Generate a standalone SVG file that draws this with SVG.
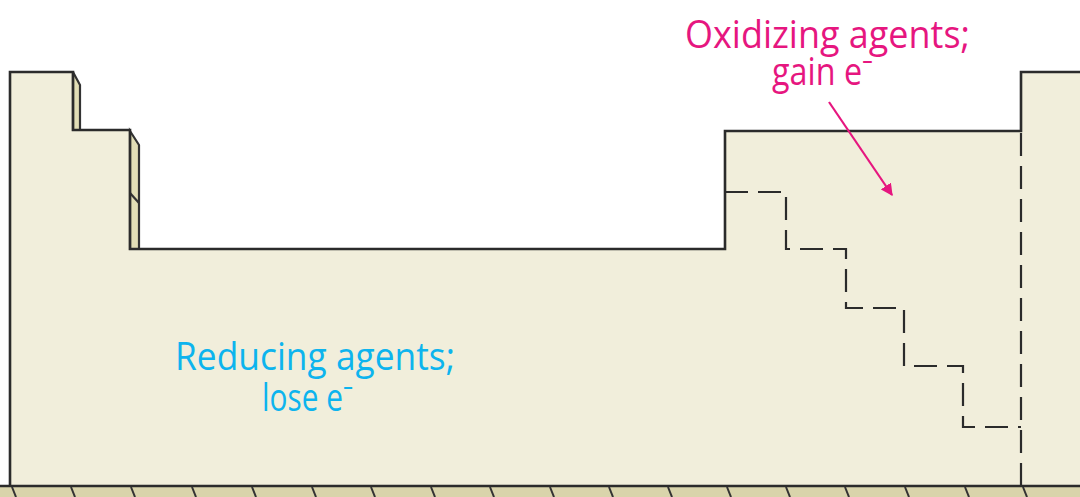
<svg xmlns="http://www.w3.org/2000/svg" width="1080" height="497" viewBox="0 0 1080 497">
<defs>
<style>
.body{fill:#f1eedb;stroke:none}
.side{fill:#e2deb6;stroke:#333;stroke-width:2.2;stroke-linejoin:miter}
.outline{fill:none;stroke:#2b2b2b;stroke-width:2.6;stroke-linejoin:miter}
.dash{fill:none;stroke:#2b2b2b;stroke-width:2.2;stroke-dasharray:23 10}
.tick{stroke:#333;stroke-width:2}
.ox{fill:#e6167f;font-family:"Open Sans","Noto Sans",sans-serif;font-size:39px}
.red{fill:#0db4ee;font-family:"Open Sans","Noto Sans",sans-serif;font-size:39px}
</style>
<marker id="ah" viewBox="0 0 10 10" refX="9" refY="5" markerWidth="5.5" markerHeight="5.5" orient="auto" markerUnits="strokeWidth">
<path d="M0,0 L10,5 L0,10 Z" fill="#e6167f"/>
</marker>
</defs>
<rect width="1080" height="497" fill="#ffffff"/>
<g id="table">
<path class="body" d="M10,486 V72 H73 V130 H130 V249 H725 V131 H1021 V72 H1080 V486 Z"/>
<rect x="0" y="486" width="1080" height="11" fill="#d9d4ab"/>
<path class="side" d="M73,72 L80,85 V130 H73 Z"/>
<path class="side" d="M130,131 L139,145 V249 H130 Z"/>
<path class="side" d="M130,193 L139,203" fill="none"/>
<path class="outline" d="M10,486 V72 H73 V130 H130 V249 H725 V131 H1021 V72 H1080"/>
<line class="outline" x1="0" y1="486" x2="1080" y2="486"/>
</g>
<g id="ticks">
<line class="tick" x1="12" y1="487" x2="16" y2="497"/>
<line class="tick" x1="71" y1="487" x2="75" y2="497"/>
<line class="tick" x1="131" y1="487" x2="135" y2="497"/>
<line class="tick" x1="192" y1="487" x2="196" y2="497"/>
<line class="tick" x1="252" y1="487" x2="256" y2="497"/>
<line class="tick" x1="312" y1="487" x2="316" y2="497"/>
<line class="tick" x1="371" y1="487" x2="375" y2="497"/>
<line class="tick" x1="431" y1="487" x2="435" y2="497"/>
<line class="tick" x1="490" y1="487" x2="494" y2="497"/>
<line class="tick" x1="550" y1="487" x2="554" y2="497"/>
<line class="tick" x1="609" y1="487" x2="613" y2="497"/>
<line class="tick" x1="668" y1="487" x2="672" y2="497"/>
<line class="tick" x1="727" y1="487" x2="731" y2="497"/>
<line class="tick" x1="786" y1="487" x2="790" y2="497"/>
<line class="tick" x1="845" y1="487" x2="849" y2="497"/>
<line class="tick" x1="905" y1="487" x2="909" y2="497"/>
<line class="tick" x1="965" y1="487" x2="969" y2="497"/>
<line class="tick" x1="1023" y1="487" x2="1027" y2="497"/>
</g>
<g id="connectors">
<path class="dash" d="M725,192 H786 V249 H846 V308 H904 V366 H963 V427 H1021"/>
<path class="dash" d="M1021,133 V486"/>
<line x1="829" y1="102" x2="892" y2="195" stroke="#e6167f" stroke-width="2.2" marker-end="url(#ah)"/>
</g>
<g id="oxidizing">
<text class="ox" x="685" y="48" textLength="285" lengthAdjust="spacingAndGlyphs">Oxidizing agents;</text>
<text class="ox" x="772" y="85" textLength="101" lengthAdjust="spacingAndGlyphs">gain e⁻</text>
</g>
<g id="reducing">
<text class="red" x="175" y="370" textLength="280" lengthAdjust="spacingAndGlyphs">Reducing agents;</text>
<text class="red" x="262" y="411" textLength="91" lengthAdjust="spacingAndGlyphs">lose e⁻</text>
</g>
</svg>
